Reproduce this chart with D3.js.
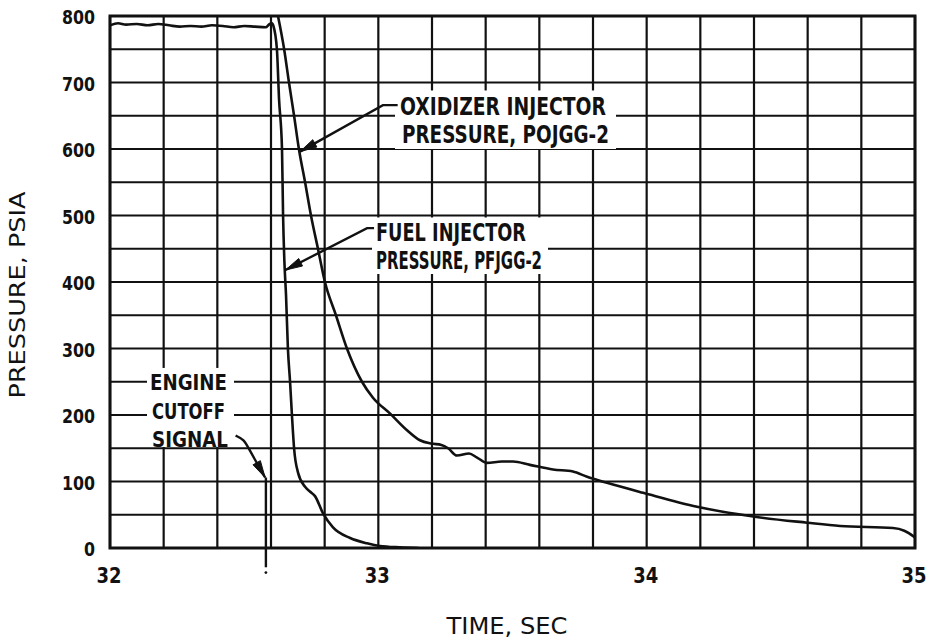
<!DOCTYPE html>
<html>
<head>
<meta charset="utf-8">
<script src="https://cdn.jsdelivr.net/npm/d3@7"></script>
<style>
html,body{margin:0;padding:0;background:#fff;}
svg{display:block;}
</style>
</head>
<body>
<svg id="chart" width="930" height="639"></svg>
<script>
// ---------------- data ----------------
const xTicks = [32, 33, 34, 35];
const yTicks = [0, 100, 200, 300, 400, 500, 600, 700, 800];
const xGrid = [32, 32.2, 32.4, 32.6, 32.8, 33, 33.2, 33.4, 33.6, 33.8, 34, 34.2, 34.4, 34.6, 34.8, 35];
const yGrid = [0, 50, 100, 150, 200, 250, 300, 350, 400, 450, 500, 550, 600, 650, 700, 750, 800];

// fuel injector pressure, PFJGG-2 (time s, psia)
const fuelTime = [32.00,32.03,32.06,32.10,32.14,32.18,32.22,32.26,32.30,32.34,32.38,32.42,32.46,32.50,32.54,32.58,32.595,32.604,32.609,32.622,32.630,32.641,32.645,32.650,32.656,32.663,32.671,32.678,32.686,32.701,32.727,32.745,32.764,32.794,32.831,32.895,32.958,33.006,33.08,33.15];
const fuelPsia = [786,789,787,788,786,788,786,784,785,784,786,785,783,785,784,783,788,789,785,750,675,600,500,430,380,300,250,200,150,113,92,85,78,52,31,15,7,3,1,0];

// oxidizer injector pressure, POJGG-2 (time s, psia)
const oxTime = [32.626,32.649,32.667,32.686,32.704,32.727,32.749,32.775,32.801,32.842,32.883,32.939,32.980,33.044,33.107,33.155,33.198,33.235,33.260,33.293,33.338,33.368,33.405,33.460,33.502,33.565,33.651,33.725,33.778,33.852,33.987,34.188,34.385,34.598,34.721,34.918,34.960,35.000];
const oxPsia = [800,750,700,650,600,550,500,450,400,350,300,250,226,202,177,162,157,155,150,139,142,136,128,130,130,125,118,115,107,98,83,62,48,38,33,30,26,16];

// engine cutoff signal
const cutoffTime = 32.581;
const cutoffTop = 106;

// annotation leaders (time, psia); last point = arrow tip
const oxLeader = [[33.072, 666], [33.017, 666], [32.708, 596]];
const fuelLeader = [[32.984, 481], [32.958, 481], [32.654, 418]];
const cutoffLeader = [[32.468, 169], [32.500, 163], [32.516, 150], [32.578, 106]];

// ---------------- layout ----------------
const svg = d3.select('#chart');
const x = d3.scaleLinear().domain([32, 35]).range([110, 915]);
const y = d3.scaleLinear().domain([0, 800]).range([548, 16]);
const INK = '#111';
const FONT = "'DejaVu Sans Condensed','Liberation Sans Narrow','DejaVu Sans',sans-serif";

svg.append('rect').attr('width', 930).attr('height', 639).attr('fill', '#fff');

// grid
const g = svg.append('g');
g.selectAll('line.vx').data(xGrid).join('line')
  .attr('x1', d => x(d)).attr('x2', d => x(d))
  .attr('y1', y(0)).attr('y2', y(800))
  .attr('stroke', INK).attr('stroke-width', 2.2);
g.selectAll('line.hy').data(yGrid).join('line')
  .attr('y1', d => y(d)).attr('y2', d => y(d))
  .attr('x1', x(32)).attr('x2', x(35))
  .attr('stroke', INK).attr('stroke-width', 2.2);

// frame
svg.append('rect')
  .attr('x', x(32)).attr('y', y(800))
  .attr('width', x(35) - x(32)).attr('height', y(0) - y(800))
  .attr('fill', 'none').attr('stroke', INK).attr('stroke-width', 3);

// annotation text blocks (white background interrupts the grid)
const notes = [
  {lines: [
    {t: 'OXIDIZER INJECTOR', x: 400, y: 115, len: 206},
    {t: 'PRESSURE, POJGG-2', x: 402, y: 143, len: 207}],
   size: 24, pad: [5, 7, 7, 6]},
  {lines: [
    {t: 'FUEL INJECTOR', x: 376, y: 241, len: 150},
    {t: 'PRESSURE, PFJGG-2', x: 376, y: 269, len: 166}],
   size: 24, pad: [4, 6, 6, 5]},
  {lines: [
    {t: 'ENGINE', x: 150, y: 390, len: 77},
    {t: 'CUTOFF', x: 152, y: 419, len: 73},
    {t: 'SIGNAL', x: 152, y: 447, len: 76}],
   size: 22, pad: [3, 6, 6, 0]}
];
const boxes = svg.append('g');
notes.forEach(n => {
  const capH = n.size * 0.73;
  const x0 = d3.min(n.lines, l => l.x) - n.pad[0];
  const x1 = d3.max(n.lines, l => l.x + l.len) + n.pad[1];
  const y0 = n.lines[0].y - capH - n.pad[2];
  const y1 = n.lines[n.lines.length - 1].y + n.pad[3];
  boxes.append('rect').attr('x', x0).attr('y', y0)
    .attr('width', x1 - x0).attr('height', y1 - y0).attr('fill', '#fff');
});

// curves
svg.append('clipPath').attr('id', 'plotclip').append('rect')
  .attr('x', x(32)).attr('y', y(800) - 1)
  .attr('width', x(35) - x(32)).attr('height', y(0) - y(800) + 2);
const line = d3.line().x(d => x(d[0])).y(d => y(d[1])).curve(d3.curveMonotoneX);
const curves = svg.append('g').attr('clip-path', 'url(#plotclip)');
curves.append('path').datum(fuelTime.map((t, i) => [t, fuelPsia[i]]))
  .attr('d', line).attr('fill', 'none').attr('stroke', INK)
  .attr('stroke-width', 2.6).attr('stroke-linejoin', 'round');
curves.append('path').datum(oxTime.map((t, i) => [t, oxPsia[i]]))
  .attr('d', line).attr('fill', 'none').attr('stroke', INK)
  .attr('stroke-width', 2.6).attr('stroke-linejoin', 'round');

// cutoff signal line
svg.append('line')
  .attr('x1', x(cutoffTime)).attr('x2', x(cutoffTime))
  .attr('y1', y(cutoffTop)).attr('y2', y(-29))
  .attr('stroke', INK).attr('stroke-width', 2.4);
svg.append('circle').attr('cx', x(cutoffTime)).attr('cy', y(-37)).attr('r', 1.4).attr('fill', INK);

// leaders with arrowheads
function leader(pts, curved) {
  const p = pts.map(d => [x(d[0]), y(d[1])]);
  const gen = d3.line().curve(curved ? d3.curveBasis : d3.curveLinear);
  svg.append('path').attr('d', gen(p)).attr('fill', 'none')
    .attr('stroke', INK).attr('stroke-width', 2.4);
  const tip = p[p.length - 1], prev = p[p.length - 2];
  const a = Math.atan2(tip[1] - prev[1], tip[0] - prev[0]);
  const L = 17, w = 4.2;
  const bx = tip[0] - L * Math.cos(a), by = tip[1] - L * Math.sin(a);
  const nx = -Math.sin(a) * w, ny = Math.cos(a) * w;
  svg.append('path')
    .attr('d', `M${tip[0]},${tip[1]}L${bx + nx},${by + ny}L${bx - nx},${by - ny}Z`)
    .attr('fill', INK).attr('stroke', INK).attr('stroke-width', 1);
}
leader(oxLeader, false);
leader(fuelLeader, false);
leader(cutoffLeader, true);

// annotation text
notes.forEach(n => {
  n.lines.forEach(l => {
    svg.append('text').attr('x', l.x).attr('y', l.y).text(l.t)
      .attr('font-family', FONT).attr('font-weight', 'bold')
      .attr('font-size', n.size).attr('fill', INK)
      .attr('textLength', l.len).attr('lengthAdjust', 'spacingAndGlyphs');
  });
});

// tick labels
svg.selectAll('text.xt').data(xTicks).join('text')
  .attr('x', d => x(d) - 1).attr('y', 583)
  .attr('text-anchor', 'middle')
  .attr('font-family', FONT).attr('font-weight', 'bold').attr('font-size', 22)
  .attr('fill', INK)
  .attr('textLength', 25).attr('lengthAdjust', 'spacingAndGlyphs')
  .text(d => d);
svg.selectAll('text.yt').data(yTicks).join('text')
  .attr('x', 95).attr('y', d => y(d) + 8)
  .attr('text-anchor', 'end')
  .attr('font-family', FONT).attr('font-weight', 'bold').attr('font-size', 20)
  .attr('fill', INK)
  .attr('textLength', d => String(d).length * 11)
  .attr('lengthAdjust', 'spacingAndGlyphs')
  .text(d => d);

// axis titles
svg.append('text').attr('x', 507).attr('y', 634)
  .attr('text-anchor', 'middle')
  .attr('font-family', FONT).attr('font-size', 23).attr('fill', INK)
  .attr('textLength', 121).attr('lengthAdjust', 'spacingAndGlyphs')
  .text('TIME, SEC');
svg.append('text')
  .attr('transform', 'translate(25,295) rotate(-90)')
  .attr('text-anchor', 'middle')
  .attr('font-family', FONT).attr('font-size', 21).attr('fill', INK)
  .attr('textLength', 207).attr('lengthAdjust', 'spacingAndGlyphs')
  .text('PRESSURE, PSIA');
</script>
</body>
</html>
